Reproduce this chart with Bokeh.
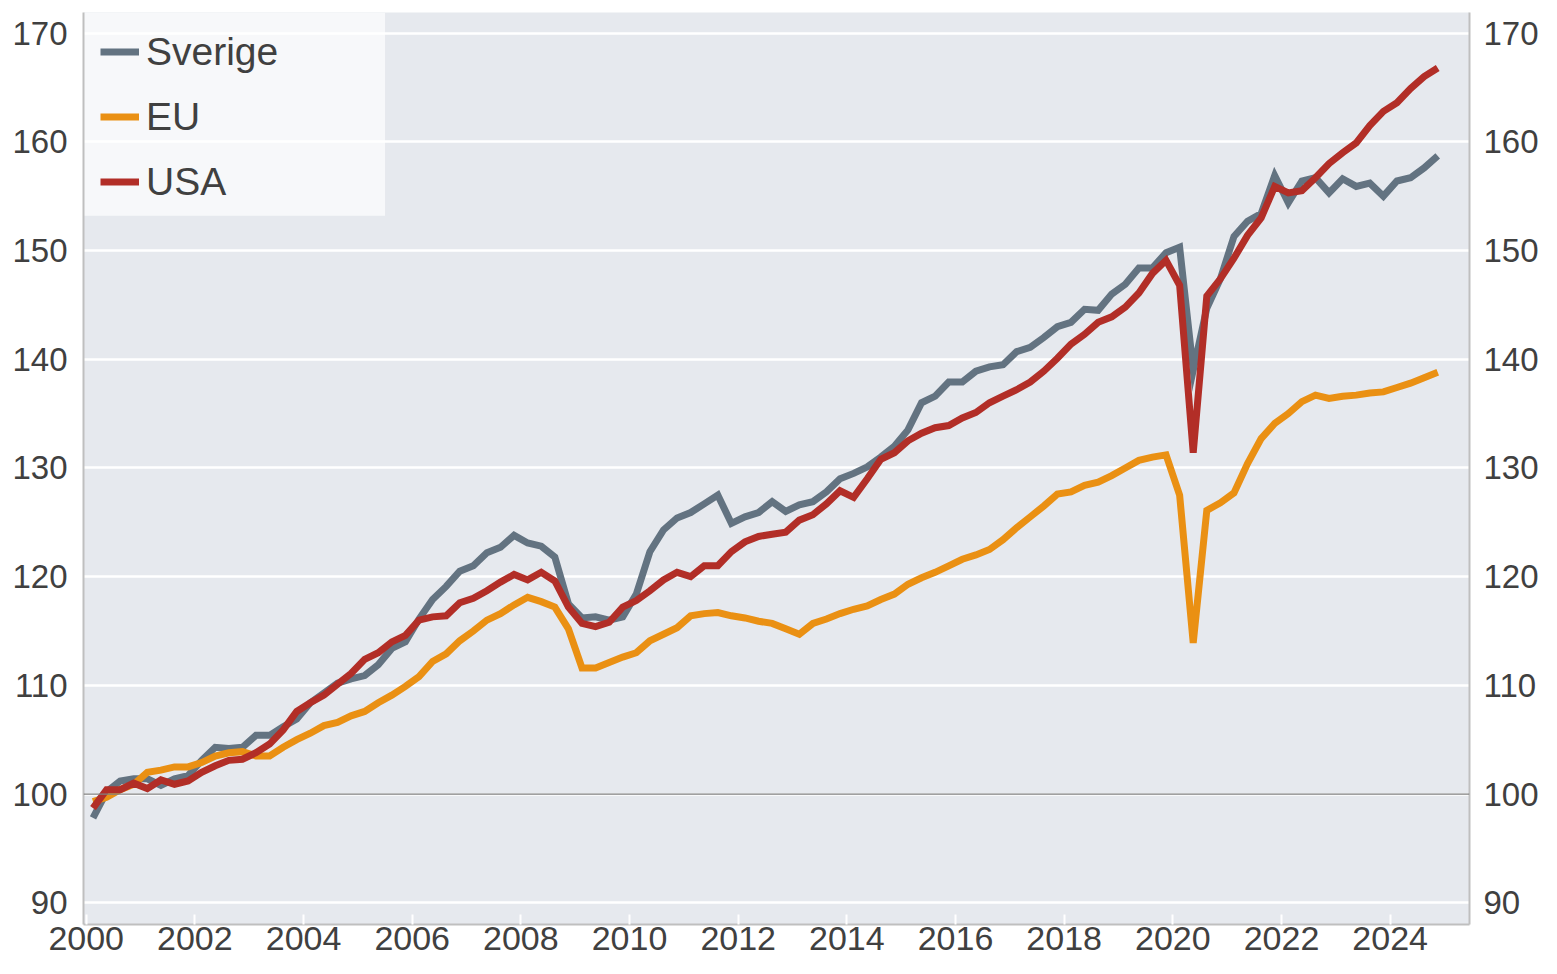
from bokeh.plotting import figure
from bokeh.models import (ColumnDataSource, LinearAxis, FixedTicker, Span, Legend, LegendItem,
                          Range1d, BoxAnnotation)
from bokeh.embed import file_html
from bokeh.resources import INLINE

# ---------------- data ----------------
years = list(range(2000, 2025))
quarters = ["Q1", "Q2", "Q3", "Q4"]

sverige = [
    97.8, 100.2, 101.2, 101.4,
    101.4, 100.8, 101.4, 101.7,
    103.1, 104.3, 104.2, 104.3,
    105.4, 105.4, 106.2, 106.9,
    108.4, 109.3, 110.2, 110.6,
    110.9, 111.9, 113.4, 114.0,
    116.1, 117.9, 119.1, 120.5,
    121.0, 122.2, 122.7, 123.8,
    123.1, 122.8, 121.8, 117.5,
    116.2, 116.3, 116.0, 116.3,
    118.4, 122.3, 124.3, 125.4,
    125.9, 126.7, 127.5, 124.9,
    125.5, 125.9, 126.9, 126.0,
    126.6, 126.9, 127.8, 129.0,
    129.5, 130.1, 131.0, 132.0,
    133.5, 136.0, 136.6, 137.9,
    137.9, 138.9, 139.3, 139.5,
    140.7, 141.1, 142.0, 143.0,
    143.4, 144.6, 144.5, 146.0,
    146.9, 148.4, 148.4, 149.8,
    150.3, 139.0, 144.7, 147.4,
    151.3, 152.7, 153.4, 156.9,
    154.4, 156.4, 156.7, 155.3,
    156.6, 155.9, 156.2, 155.0,
    156.4, 156.7, 157.6, 158.7,
]

eu = [
    99.3, 99.7, 100.4, 100.9,
    102.0, 102.2, 102.5, 102.5,
    102.9, 103.5, 103.8, 103.9,
    103.5, 103.5, 104.3, 105.0,
    105.6, 106.3, 106.6, 107.2,
    107.6, 108.4, 109.1, 109.9,
    110.8, 112.2, 112.9, 114.1,
    115.0, 116.0, 116.6, 117.4,
    118.1, 117.7, 117.2, 115.2,
    111.6, 111.6, 112.1, 112.6,
    113.0, 114.1, 114.7, 115.3,
    116.4, 116.6, 116.7, 116.4,
    116.2, 115.9, 115.7, 115.2,
    114.7, 115.7, 116.1, 116.6,
    117.0, 117.3, 117.9, 118.4,
    119.3, 119.9, 120.4, 121.0,
    121.6, 122.0, 122.5, 123.4,
    124.5, 125.5, 126.5, 127.6,
    127.8, 128.4, 128.7, 129.3,
    130.0, 130.7, 131.0, 131.2,
    127.5, 113.9, 126.1, 126.8,
    127.7, 130.4, 132.7, 134.1,
    135.0, 136.1, 136.7, 136.4,
    136.6, 136.7, 136.9, 137.0,
    137.4, 137.8, 138.3, 138.8,
]

usa = [
    98.7, 100.4, 100.4, 101.0,
    100.5, 101.3, 100.9, 101.2,
    102.0, 102.6, 103.1, 103.2,
    103.8, 104.6, 105.9, 107.6,
    108.4, 109.1, 110.1, 111.1,
    112.4, 113.0, 114.0, 114.6,
    116.0, 116.3, 116.4, 117.6,
    118.0, 118.7, 119.5, 120.2,
    119.7, 120.4, 119.6, 117.2,
    115.7, 115.4, 115.8, 117.2,
    117.8, 118.7, 119.7, 120.4,
    120.0, 121.0, 121.0, 122.3,
    123.2, 123.7, 123.9, 124.1,
    125.2, 125.7, 126.7, 127.9,
    127.3, 129.0, 130.8, 131.4,
    132.5, 133.2, 133.7, 133.9,
    134.6, 135.1, 136.0, 136.6,
    137.2, 137.9, 138.9, 140.1,
    141.4, 142.3, 143.4, 143.9,
    144.8, 146.1, 147.9, 149.1,
    146.8, 131.4, 145.8, 147.4,
    149.3, 151.4, 153.0, 155.9,
    155.3, 155.5, 156.7, 158.0,
    159.0, 159.9, 161.5, 162.8,
    163.6, 164.9, 166.0, 166.8,
]

series_names = ["Sverige", "EU", "USA"]
tick_years = [2000, 2002, 2004, 2006, 2008, 2010, 2012, 2014, 2016, 2018, 2020, 2022, 2024]
y_ticks = [90, 100, 110, 120, 130, 140, 150, 160, 170]

# quarter dates as decimal years (middle of each quarter)
t = [y + (qi + 0.5) / 4 for y in years for qi in range(len(quarters))]

src = ColumnDataSource(dict(t=t, sverige=sverige, eu=eu, usa=usa))

# ---------------- styling ----------------
FONT = "Liberation Sans"
TXT = "#404040"
colors = {"Sverige": "#637381", "EU": "#EA9013", "USA": "#B22E27"}

X0, X1 = 1999.95, 2025.46
Y0, Y1 = 88.0, 171.9

p = figure(width=1541, height=958, output_backend="svg", toolbar_location=None,
           x_range=Range1d(X0, X1), y_range=Range1d(Y0, Y1),
           min_border_left=83, min_border_right=64, min_border_top=12, min_border_bottom=34,
           background_fill_color="#E6E9EE", border_fill_color="white",
           outline_line_color=None, y_axis_location=None, x_axis_location=None)

p.xgrid.visible = False
p.ygrid.ticker = FixedTicker(ticks=y_ticks)
p.ygrid.grid_line_color = "white"
p.ygrid.grid_line_width = 2.5

# legend panel (drawn beneath the grid lines)
panel = BoxAnnotation(left=X0, right=2005.5, top=Y1, bottom=153.2,
                      fill_color="#F7F8FA", fill_alpha=1.0, line_color=None, level="image")
p.add_layout(panel)

def style_axis(ax, standoff, size):
    ax.axis_line_color = "#BFBFBF"
    ax.axis_line_width = 2
    ax.major_label_text_font = FONT
    ax.major_label_text_font_size = size
    ax.major_label_text_color = TXT
    ax.minor_tick_line_color = None
    ax.major_label_standoff = standoff

yl = LinearAxis(ticker=FixedTicker(ticks=y_ticks))
style_axis(yl, 10, "33px")
yl.major_tick_line_color = None
p.add_layout(yl, "left")

yr = LinearAxis(ticker=FixedTicker(ticks=y_ticks))
style_axis(yr, 8, "33px")
yr.major_tick_line_color = None
p.add_layout(yr, "right")

xb = LinearAxis(ticker=FixedTicker(ticks=tick_years))
style_axis(xb, 2, "34px")
xb.major_tick_in = 10
xb.major_tick_out = 0
xb.major_tick_line_color = "white"
xb.major_tick_line_width = 2
p.add_layout(xb, "below")

p.add_layout(Span(location=100, dimension="width", line_color="#808080", line_width=1.3))

renderers = []
for name, col in zip(series_names, ["sverige", "eu", "usa"]):
    r = p.line("t", col, source=src, line_color=colors[name], line_width=7,
               line_join="miter", line_cap="butt")
    renderers.append((name, r))

legend = Legend(items=[LegendItem(label=n, renderers=[r]) for n, r in renderers],
                location="top_left", margin=17, padding=0, spacing=20,
                glyph_width=39, glyph_height=45, label_height=45, label_standoff=7,
                label_text_font=FONT, label_text_font_size="39px", label_text_color=TXT,
                background_fill_alpha=0.0, border_line_color=None)
p.add_layout(legend)

open("out.html", "w").write(file_html(p, INLINE))
